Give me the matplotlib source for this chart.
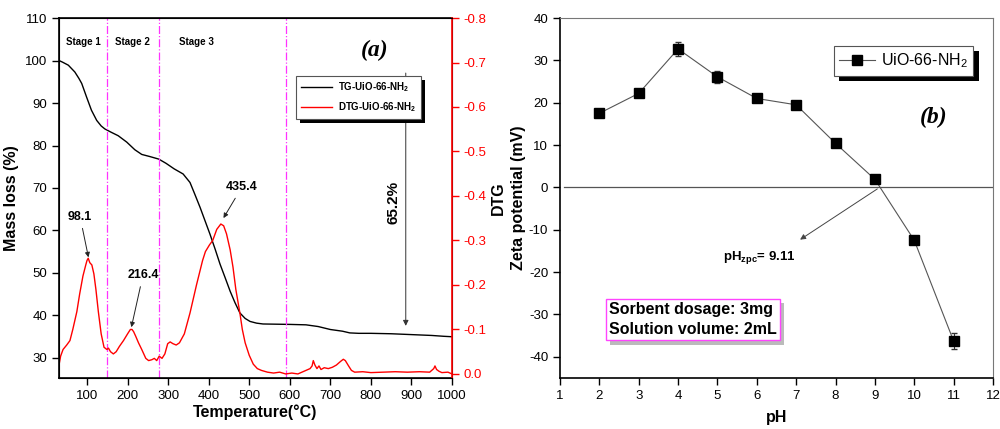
import numpy as np
import matplotlib
matplotlib.use("Agg")
import matplotlib.pyplot as plt
import matplotlib.patheffects as pe

plt.rcParams['font.family'] = ['Liberation Sans', 'DejaVu Sans']
plt.rcParams['axes.unicode_minus'] = False
plt.rcParams['mathtext.fontset'] = 'custom'
plt.rcParams['mathtext.rm'] = 'Liberation Sans'
plt.rcParams['mathtext.bf'] = 'Liberation Sans:bold'
plt.rcParams['mathtext.it'] = 'Liberation Sans:italic'

# ── (a) TG / DTG data ───────────────────────────────────────────
tg_temp = [31, 40, 54, 70, 80, 87, 99, 111, 124, 135, 144, 160, 177, 198, 218, 235,
           255, 277, 295, 315, 337, 354, 366, 379, 391, 403, 416, 428, 441, 453,
           465, 477, 490, 502, 518, 534, 600, 640, 670, 700, 730, 748, 770, 800,
           850, 900, 950, 980, 1000]
tg_mass = [100.0, 99.6, 98.9, 97.3, 95.8, 94.6, 91.4, 88.3, 85.9, 84.6, 83.9, 83.1,
           82.3, 80.8, 79.0, 77.9, 77.4, 76.8, 75.8, 74.5, 73.3, 71.3, 68.5, 65.4,
           62.3, 59.2, 55.6, 52.1, 48.8, 45.7, 43.0, 40.6, 39.3, 38.6, 38.2, 38.0,
           37.9, 37.8, 37.4, 36.7, 36.3, 35.9, 35.8, 35.8, 35.7, 35.5, 35.3, 35.1,
           35.0]

dtg_temp = [31, 35, 41, 50, 58, 65, 75, 82, 90, 97, 100, 103, 107, 112, 117, 122,
            128, 135, 142, 149, 153, 158, 165, 172, 180, 190, 200, 207, 211, 215,
            220, 227, 235, 245, 252, 260, 266, 272, 278, 285, 292, 299, 305, 312,
            320, 328, 340, 354, 370, 385, 392, 402, 410, 420, 430, 437, 444, 453,
            460, 467, 477, 483, 490, 500, 510, 520, 530, 545, 560, 575, 590, 605,
            620, 640, 650, 655, 658, 662, 667, 672, 677, 685, 695, 705, 715, 725,
            732, 737, 745, 752, 760, 780, 800, 830, 860, 890, 920, 945, 955, 958,
            962, 968, 975, 990, 1000]
dtg_val = [-0.02, -0.04, -0.055, -0.065, -0.075, -0.10, -0.14, -0.18, -0.22, -0.245,
           -0.255, -0.26, -0.25, -0.245, -0.225, -0.19, -0.14, -0.09, -0.06, -0.055,
           -0.058, -0.05, -0.045, -0.05, -0.062, -0.075, -0.09, -0.10, -0.10, -0.095,
           -0.085, -0.07, -0.055, -0.035, -0.03, -0.032, -0.035, -0.03, -0.04, -0.035,
           -0.045, -0.068, -0.072, -0.068, -0.065, -0.07, -0.09, -0.137, -0.20, -0.255,
           -0.275, -0.29, -0.30, -0.325, -0.337, -0.333, -0.315, -0.279, -0.24, -0.19,
           -0.137, -0.10, -0.07, -0.042, -0.022, -0.012, -0.008, -0.004, -0.002, -0.004,
           0.0, -0.002, 0.0, -0.008, -0.012, -0.018, -0.03, -0.02, -0.012, -0.018,
           -0.01, -0.014, -0.012, -0.015, -0.02, -0.028, -0.033, -0.03, -0.018, -0.008,
           -0.004, -0.005, -0.003, -0.004, -0.005, -0.004, -0.005, -0.004, -0.012,
           -0.018, -0.01, -0.006, -0.003, -0.004, 0.0]

stage_bounds = [150, 277, 590]
stage_labels = ["Stage 1", "Stage 2", "Stage 3"]
stage_label_x = [90, 213, 371]

# ── (b) zeta potential data ─────────────────────────────────────
ph = [2, 3, 4, 5, 6, 7, 8, 9, 10, 11]
zeta = [17.5, 22.2, 32.7, 26.1, 21.0, 19.5, 10.4, 1.9, -12.5, -36.3]
zeta_err = [0.5, 0.9, 1.6, 1.4, 0.8, 0.6, 0.4, 0.4, 0.5, 1.8]

fig = plt.figure(figsize=(10, 4.29), dpi=100)

# ── Panel (a) ───────────────────────────────────────────────────
ax1 = fig.add_axes([0.059, 0.119, 0.393, 0.839])
ax2 = ax1.twinx()

ax1.plot(tg_temp, tg_mass, color='k', lw=1.0, label='TG-UiO-66-NH$_\\mathbf{2}$')
ax2.plot(dtg_temp, dtg_val, color='red', lw=1.0, label='DTG-UiO-66-NH$_\\mathbf{2}$')

ax1.set_xlim(31, 1000)
ax1.set_ylim(25.3, 110)
ax2.set_ylim(0.009, -0.8)
ax1.set_xticks(range(100, 1001, 100))
ax1.set_yticks(range(30, 111, 10))
dtg_ticks = np.round(np.arange(0, -0.81, -0.1), 1)
ax2.set_yticks(dtg_ticks)
ax2.set_yticklabels(["0.0" if v == 0 else f"{v:.1f}" for v in dtg_ticks])

ax1.tick_params(direction='out', length=5, width=1, labelsize=9.5)
ax2.tick_params(direction='out', length=5, width=1, labelsize=9.5, colors='red')
ax2.spines['right'].set_color('red')
ax2.spines['right'].set_linewidth(1.2)
for s in ['left', 'bottom', 'top']:
    ax1.spines[s].set_linewidth(1.2)

ax1.set_xlabel("Temperature(°C)", fontsize=11.5, fontweight='bold', labelpad=2)
ax1.set_ylabel("Mass loss (%)", fontsize=11.5, fontweight='bold', labelpad=4)
ax2.set_ylabel("DTG", fontsize=11.5, fontweight='bold', labelpad=3)

for xb in stage_bounds:
    ax1.axvline(xb, color='#ff33ff', lw=0.9, ls='-.')
for lab, xs in zip(stage_labels, stage_label_x):
    ax1.text(xs, 104.3, lab, fontsize=7, fontweight='bold', ha='center', va='center')

ax1.text(810, 102.4, "(a)", fontsize=17, fontweight='bold', style='italic',
         family='Liberation Serif', ha='center', va='center')

# peak labels
arrow_kw = dict(arrowstyle='-|>', color='#222222', lw=0.7, mutation_scale=7)
ax2.annotate("98.1", xy=(105, -0.256), xytext=(83, -0.353), fontsize=9,
             fontweight='bold', ha='center', va='center', arrowprops=arrow_kw)
ax2.annotate("216.4", xy=(208, -0.099), xytext=(238, -0.222), fontsize=9,
             fontweight='bold', ha='center', va='center', arrowprops=arrow_kw)
ax2.annotate("435.4", xy=(433, -0.345), xytext=(482, -0.42), fontsize=9,
             fontweight='bold', ha='center', va='center', arrowprops=arrow_kw)

# mass loss arrow
ax1.annotate("", xy=(886, 36.9), xytext=(886, 97.7),
             arrowprops=dict(arrowstyle='-|>', color='#333333', lw=0.7, mutation_scale=8))
ax1.text(855, 66.7, "65.2%", rotation=90, fontsize=11, fontweight='bold',
         ha='center', va='center')

h1, l1 = ax1.get_legend_handles_labels()
h2, l2 = ax2.get_legend_handles_labels()
leg = ax2.legend(h1 + h2, l1 + l2, loc='upper left', bbox_to_anchor=(0.59, 0.853),
                 fancybox=False, edgecolor='#555555', framealpha=1,
                 prop={'size': 7, 'weight': 'bold'}, handlelength=3.2,
                 borderpad=0.5, labelspacing=0.6, handletextpad=0.6)
leg.get_frame().set_linewidth(0.8)
leg.get_frame().set_path_effects([pe.SimplePatchShadow(offset=(3, -3), shadow_rgbFace='k', alpha=1),
                                  pe.Normal()])

# ── Panel (b) ───────────────────────────────────────────────────
ax3 = fig.add_axes([0.56, 0.119, 0.433, 0.839])
ax3.axhline(0, xmin=0.01, xmax=1, color='#555555', lw=0.9)
ax3.errorbar(ph, zeta, yerr=zeta_err, fmt='none', ecolor='#333333',
             elinewidth=0.8, capsize=2.5)
ax3.plot(ph, zeta, color='#555555', lw=0.8, marker='s', markersize=7,
         mfc='k', mec='k', label='UiO-66-NH$_\\mathrm{2}$')

ax3.set_xlim(1, 12)
ax3.set_ylim(-45, 40)
ax3.set_xticks(range(1, 13))
ax3.set_yticks(range(-40, 41, 10))
ax3.tick_params(direction='out', length=5, width=1, labelsize=9.5)
for s in ['left', 'bottom']:
    ax3.spines[s].set_linewidth(1.2)
for s in ['right', 'top']:
    ax3.spines[s].set_color('#777777')

ax3.set_xlabel("pH", fontsize=11.5, fontweight='bold', labelpad=6)
ax3.set_ylabel("Zeta potential (mV)", fontsize=11.5, fontweight='bold', labelpad=2)

ax3.annotate("", xy=(7.04, -12.7), xytext=(9.12, 0),
             arrowprops=dict(arrowstyle='-|>', color='#444444', lw=0.7, mutation_scale=8))
ax3.text(6.05, -16.6, r"pH$_{\mathbf{zpc}}$= 9.11", fontsize=9.5, fontweight='bold',
         ha='center', va='center')

ax3.text(10.5, 16.5, "(b)", fontsize=17, fontweight='bold', style='italic',
         family='Liberation Serif', ha='center', va='center')

t = ax3.text(2.25, -31.2, "Sorbent dosage: 3mg\nSolution volume: 2mL", fontsize=11.5,
             fontweight='bold', ha='left', va='center', linespacing=1.45,
             bbox=dict(boxstyle='square,pad=0.2', facecolor='white', edgecolor='#ff44ff', lw=1))
t.get_bbox_patch().set_path_effects([pe.SimplePatchShadow(offset=(3, -3), shadow_rgbFace='#bbbbbb', alpha=1),
                                     pe.Normal()])

leg3 = ax3.legend(loc='upper left', bbox_to_anchor=(0.614, 0.945), fancybox=False,
                  edgecolor='#555555', framealpha=1, prop={'size': 11.5},
                  handlelength=2.2, borderpad=0.35, handletextpad=0.4)
leg3.get_frame().set_linewidth(0.8)
leg3.get_frame().set_path_effects([pe.SimplePatchShadow(offset=(4, -4), shadow_rgbFace='k', alpha=1),
                                   pe.Normal()])

fig.savefig("out.png", dpi=100)
